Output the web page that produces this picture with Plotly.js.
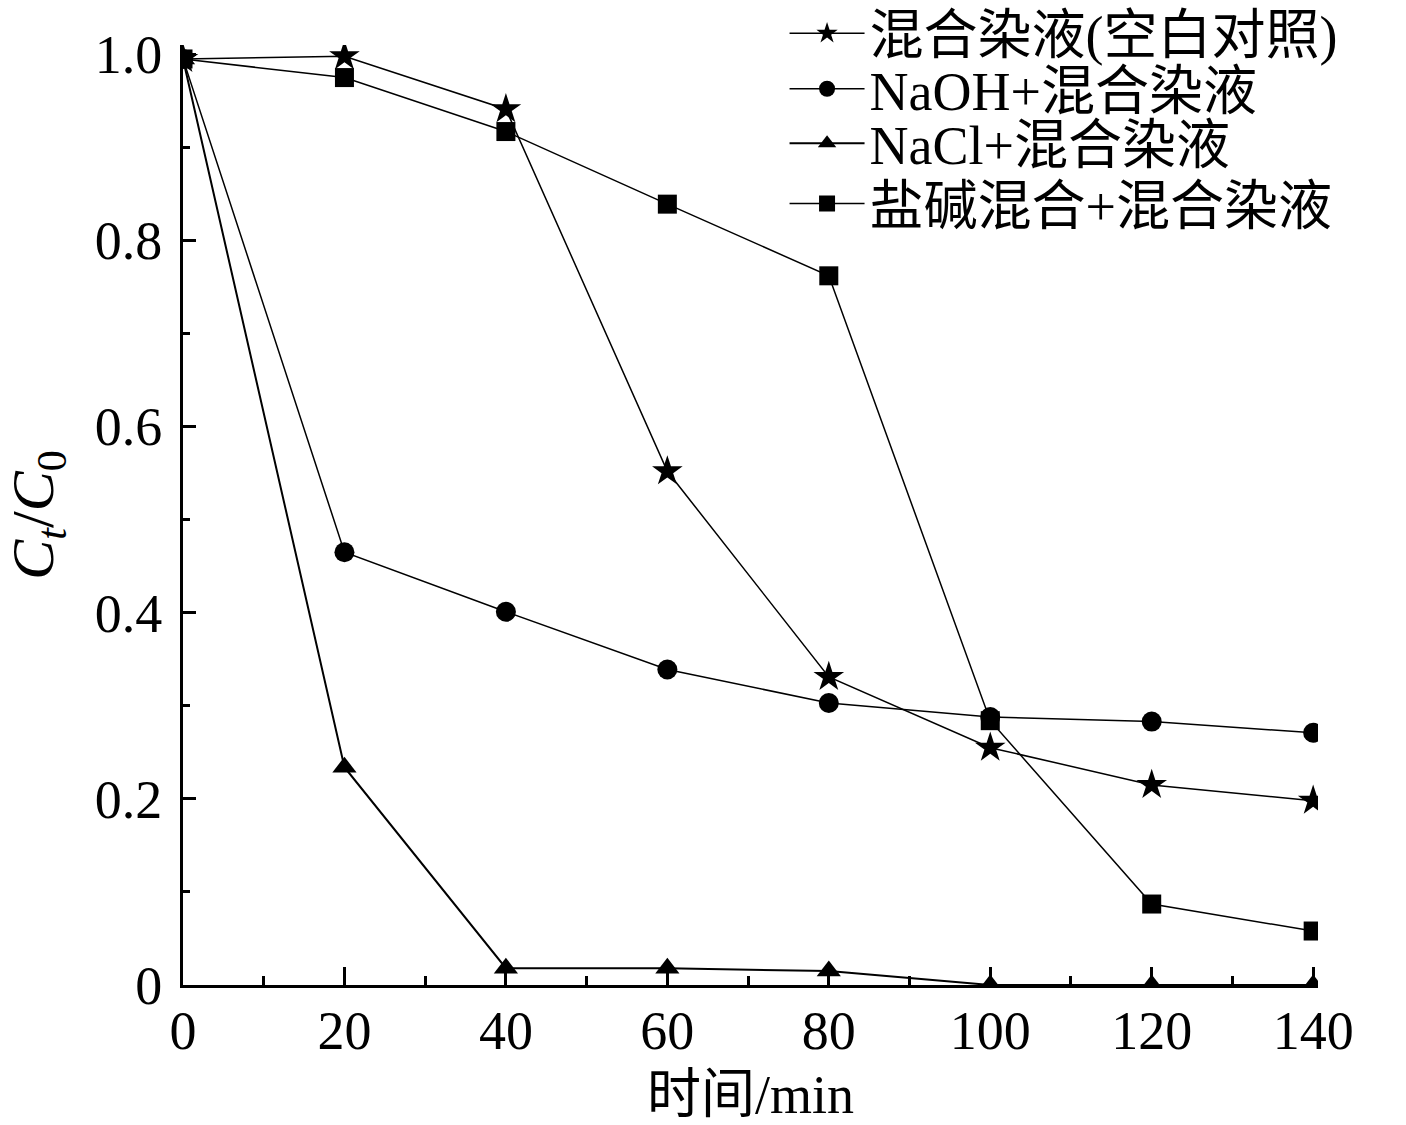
<!DOCTYPE html>
<html>
<head>
<meta charset="utf-8">
<script src="https://cdn.plot.ly/plotly-3.0.1.min.js"></script>
<style>
  html, body { margin: 0; padding: 0; background: #fff; }
  #plot { width: 1406px; height: 1125px; }
</style>
</head>
<body>
<div id="plot"></div>
<script>
var time = [0, 20, 40, 60, 80, 100, 120, 140];
var blank = [0.995, 0.998, 0.941, 0.552, 0.331, 0.255, 0.215, 0.198];
var naoh = [0.995, 0.465, 0.401, 0.339, 0.303, 0.288, 0.283, 0.271];
var nacl = [0.995, 0.234, 0.018, 0.018, 0.015, 0.0, 0.0, 0.0];
var mixed = [0.995, 0.975, 0.917, 0.839, 0.762, 0.284, 0.087, 0.058];
var names = ["混合染液(空白对照)", "NaOH+混合染液", "NaCl+混合染液", "盐碱混合+混合染液"];

var fnt = "Liberation Serif, Times New Roman, Noto Sans CJK SC, serif";

function tr(y, name, sym, size, lw, leg) {
  return {
    x: time, y: y, name: name, type: "scatter", mode: "lines+markers",
    line: {color: "#000", width: lw},
    marker: {symbol: sym, size: size, color: "#000"},
    legend: leg
  };
}

var data = [
  tr(blank, names[0], "star", 23, 1.5, "legend"),
  tr(naoh, names[1], "circle", 20, 1.5, "legend2"),
  tr(nacl, names[2], "triangle-up", 21, 2, "legend3"),
  tr(mixed, names[3], "square", 19, 1.5, "legend4")
];

function leg(y) {
  return {x: 0.53, xanchor: "left", y: y, yanchor: "middle",
    bgcolor: "rgba(0,0,0,0)", borderwidth: 0, itemwidth: 75,
    font: {family: fnt, size: 54, color: "#000"}};
}

var layout = {
  width: 1406, height: 1125,
  margin: {l: 183, r: 88, t: 45, b: 140, autoexpand: false},
  paper_bgcolor: "#fff", plot_bgcolor: "#fff",
  font: {family: fnt, color: "#000"},
  showlegend: true,
  legend: leg(1.012),
  legend2: leg(0.953),
  legend3: leg(0.895),
  legend4: leg(0.831),
  xaxis: {
    range: [0, 140.6], showgrid: false, zeroline: false,
    showline: true, linewidth: 3, linecolor: "#000",
    tickmode: "linear", tick0: 0, dtick: 20,
    ticks: "inside", ticklen: 18, tickwidth: 3, tickcolor: "#000",
    minor: {dtick: 10, ticks: "inside", ticklen: 9, tickwidth: 3, tickcolor: "#000"},
    tickfont: {family: fnt, size: 54},
    ticklabelstandoff: -4,
    title: {text: "时间/min", font: {family: fnt, size: 54}, standoff: 16}
  },
  yaxis: {
    range: [0, 1.01], showgrid: false, zeroline: false,
    showline: true, linewidth: 3, linecolor: "#000",
    tickmode: "array", tickvals: [0, 0.2, 0.4, 0.6, 0.8, 1.0],
    ticktext: ["0", "0.2", "0.4", "0.6", "0.8", "1.0"],
    ticks: "inside", ticklen: 13, tickwidth: 3, tickcolor: "#000",
    minor: {tickvals: [0.1, 0.3, 0.5, 0.7, 0.9], ticks: "inside", ticklen: 7, tickwidth: 3, tickcolor: "#000"},
    tickfont: {family: fnt, size: 54},
    ticklabelstandoff: 7,
    title: {text: "<i>C</i><sub><i>t</i></sub>/<i>C</i><sub>0</sub>", font: {family: fnt, size: 60}, standoff: 24}
  }
};

Plotly.newPlot("plot", data, layout, {staticPlot: true});
</script>
</body>
</html>
